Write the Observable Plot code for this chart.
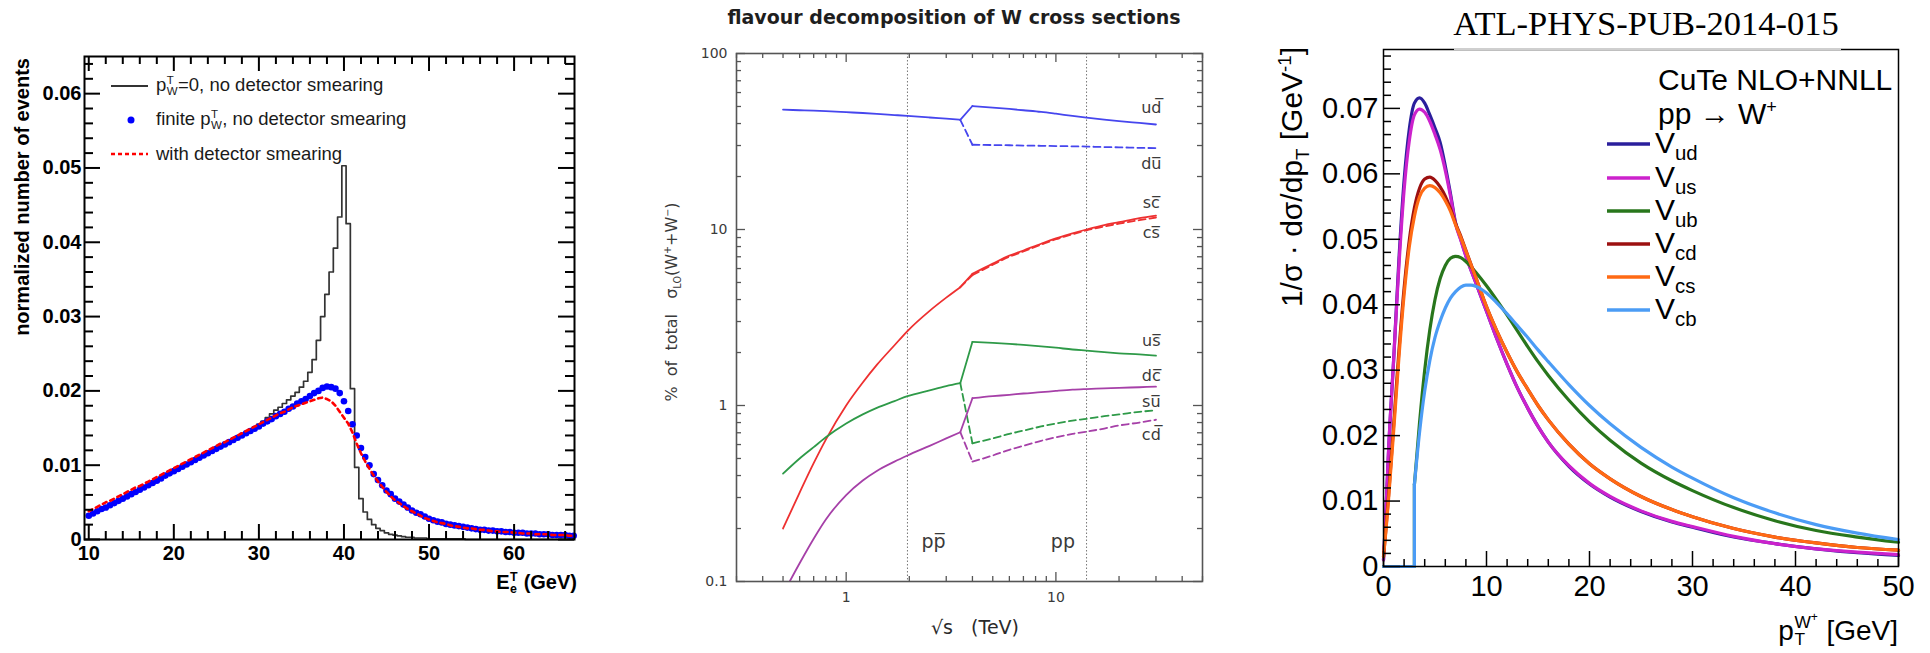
<!DOCTYPE html>
<html>
<head>
<meta charset="utf-8">
<script src="https://cdn.jsdelivr.net/npm/d3@7"></script>
<script src="https://cdn.jsdelivr.net/npm/@observablehq/plot@0.6"></script>
<style>
  body { margin: 0; background: #fff; }
  #page { position: relative; width: 1930px; height: 653px; overflow: hidden; background: #fff; }
  .panel { position: absolute; top: 0; }
  .panel svg { overflow: visible; }
  .lbl { position: absolute; white-space: pre; line-height: 1; }
  .ss { display: inline-block; font-size: 0.62em; line-height: 1; vertical-align: -0.32em; margin: 0 0.04em; text-align: left; }
  .ss > span { display: block; }
</style>
</head>
<body>
<div id="page">
  <div class="panel" id="p1" style="left:0px"></div>
  <div class="panel" id="p2" style="left:600px"></div>
  <div class="panel" id="p3" style="left:1240px"></div>
</div>
<script>
// ===================== Panel 1: electron transverse energy =====================
const etBins = d3.range(10, 67.001, 0.5); // bin centres (GeV)
// histogram: pT(W) = 0, no detector smearing
const noSmearHist = [
  .0031,.0034,.0037,.0040,.0042,.0045,.0048,.0051,.0054,.0057,
  .0060,.0063,.0066,.0069,.0072,.0075,.0078,.0081,.0085,.0088,
  .0091,.0094,.0097,.0100,.0103,.0106,.0109,.0112,.0115,.0119,
  .0122,.0125,.0128,.0131,.0134,.0138,.0141,.0144,.0148,.0151,
  .0155,.0159,.0164,.0169,.0174,.0178,.0183,.0188,.0193,.0198,
  .0205,.0213,.0225,.0242,.0268,.0300,.0330,.0360,.0392,.0434,
  .0503,.0425,.0203,.0097,.0055,.0037,.0027,.0020,.0015,.0012,
  .0009,.0007,.0006,.0005,.0004,.0003,.0003,.0002,.0002,.0002,
  .0001,.0001,.0001,.0001,.0001,.0001,.0001,.0001,.0001,0,
  0,0,0,0,0,0,0,0,0,0,
  0,0,0,0,0,0,0,0,0,0,
  0,0,0,0,0
];
// points: finite pT(W), no detector smearing
const finitePtPoints = [
  .0032,.0035,.0038,.0041,.0043,.0046,.0049,.0052,.0055,.0058,
  .0061,.0064,.0067,.0070,.0073,.0076,.0079,.0082,.0086,.0089,
  .0092,.0095,.0098,.0101,.0104,.0107,.0110,.0113,.0116,.0119,
  .0122,.0125,.0128,.0131,.0134,.0137,.0140,.0143,.0146,.0149,
  .0152,.0156,.0159,.0162,.0166,.0169,.0172,.0176,.0179,.0183,
  .0186,.0189,.0193,.0197,.0200,.0204,.0206,.0205,.0203,.0197,
  .0186,.0173,.0155,.0140,.0123,.0111,.0100,.0088,.0080,.0073,
  .0066,.0061,.0055,.0051,.0047,.0043,.0039,.0036,.0034,.0031,
  .0028,.0026,.0024,.0023,.0021,.0020,.0019,.0018,.0017,.0016,
  .0015,.0014,.0013,.0013,.0012,.0012,.0011,.0011,.0010,.0010,
  .0009,.0009,.0009,.0008,.0008,.0008,.0007,.0007,.0007,.0006,
  .0006,.0006,.0006,.0005,.0005
];
// curve: with detector smearing
const smearedCurve = [
  .0038,.0041,.0044,.0047,.0050,.0052,.0055,.0058,.0061,.0064,
  .0067,.0070,.0072,.0075,.0078,.0081,.0084,.0087,.0090,.0093,
  .0096,.0099,.0102,.0105,.0108,.0111,.0114,.0117,.0120,.0123,
  .0126,.0129,.0131,.0134,.0137,.0140,.0143,.0146,.0149,.0152,
  .0155,.0158,.0161,.0164,.0167,.0170,.0172,.0175,.0178,.0180,
  .0182,.0184,.0186,.0188,.0190,.0191,.0189,.0186,.0180,.0172,
  .0164,.0156,.0144,.0129,.0116,.0105,.0095,.0086,.0078,.0071,
  .0064,.0058,.0053,.0049,.0045,.0041,.0038,.0035,.0032,.0029,
  .0027,.0025,.0023,.0022,.0021,.0019,.0018,.0017,.0016,.0015,
  .0015,.0014,.0013,.0013,.0012,.0011,.0011,.0010,.0010,.0010,
  .0009,.0009,.0008,.0008,.0008,.0007,.0007,.0007,.0007,.0006,
  .0006,.0006,.0006,.0005,.0005
];
const etTickLabels = [10, 20, 30, 40, 50, 60];
const evTickLabels = [0, 0.01, 0.02, 0.03, 0.04, 0.05, 0.06];

// ===================== Panel 2: flavour decomposition =====================
const sqrtsPpbar = [0.5, 0.6, 0.7, 0.8, 1, 1.2, 1.4, 1.7, 1.96, 2.5, 3, 3.5];
const sqrtsPp    = [4, 5, 6, 7, 8.5, 10, 12, 14, 17, 20, 25, 30];
const udPpbar = [48, 47.6, 47.3, 47.0, 46.4, 45.9, 45.4, 44.7, 44.2, 43.3, 42.6, 42.0];
const udPp    = [50.3, 49.3, 48.4, 47.6, 46.6, 45.5, 44.2, 43.2, 42.1, 41.3, 40.3, 39.5];
const duPp    = [30.3, 30.2, 30.1, 30.0, 29.9, 29.8, 29.7, 29.6, 29.4, 29.3, 29.1, 29.0];
const scPpbar = [0.20, 0.32, 0.47, 0.64, 1.0, 1.35, 1.7, 2.2, 2.65, 3.45, 4.1, 4.7];
const scPp    = [5.6, 6.4, 7.1, 7.6, 8.3, 8.9, 9.5, 10.0, 10.6, 11.0, 11.6, 12.0];
const csPp    = [5.5, 6.3, 7.0, 7.5, 8.2, 8.8, 9.4, 9.9, 10.4, 10.8, 11.3, 11.7];
const usPpbar = [0.41, 0.50, 0.58, 0.66, 0.79, 0.89, 0.97, 1.06, 1.13, 1.22, 1.29, 1.34];
const usPp    = [2.30, 2.27, 2.24, 2.21, 2.17, 2.13, 2.08, 2.05, 2.01, 1.98, 1.95, 1.92];
const suPp    = [0.61, 0.65, 0.69, 0.72, 0.76, 0.79, 0.82, 0.84, 0.87, 0.89, 0.92, 0.94];
const dcPpbar = [0.085, 0.127, 0.175, 0.225, 0.31, 0.375, 0.425, 0.48, 0.52, 0.59, 0.65, 0.705];
const dcPp    = [1.10, 1.13, 1.15, 1.17, 1.19, 1.21, 1.23, 1.24, 1.25, 1.26, 1.27, 1.28];
const cdPp    = [0.48, 0.52, 0.56, 0.59, 0.63, 0.66, 0.69, 0.71, 0.74, 0.77, 0.80, 0.83];
const flavourNames = ["ud\u0305", "du\u0305", "sc\u0305", "cs\u0305", "us\u0305", "dc\u0305", "su\u0305", "cd\u0305"];
const flavourLabelY = [49, 23.7, 14.2, 9.6, 2.32, 1.48, 1.05, 0.68];
const flavourLabelX = 28.5;
const colliderEnergies = [1.96, 14];
const colliderNames = ["pp\u0305", "pp"];
const colliderLabelX = [2.61, 10.8];
const colliderLabelY = 0.167;

// ===================== Panel 3: W+ transverse momentum =====================
const ptGrid = [0, 0.25, 0.5, 1, 1.5, 2, 2.5, 3, 3.5, 4, 4.5, 5, 5.5, 6, 6.5, 7, 7.5, 8, 9, 10,
                11, 12, 13, 14, 15, 16, 18, 20, 22, 25, 28, 30, 34, 38, 42, 46, 50];
const vudCurve = [0.0010, 0.0090, 0.0180, 0.0320, 0.0470, 0.0590, 0.0668, 0.0708, 0.0716, 0.0708,
                  0.0690, 0.0670, 0.0648, 0.0612, 0.0570, 0.0525, 0.0500, 0.0475, 0.0432, 0.0390,
                  0.0348, 0.0309, 0.0273, 0.0242, 0.0214, 0.0190, 0.0153, 0.0126, 0.0106, 0.0084,
                  0.0068, 0.0060, 0.0045, 0.0035, 0.0027, 0.0021, 0.0017];
const vusCurve = [0.0010, 0.0090, 0.0180, 0.0320, 0.0460, 0.0575, 0.0650, 0.0690, 0.0699, 0.0694,
                  0.0680, 0.0660, 0.0637, 0.0605, 0.0566, 0.0523, 0.0499, 0.0474, 0.0432, 0.0390,
                  0.0348, 0.0309, 0.0273, 0.0242, 0.0214, 0.0190, 0.0154, 0.0127, 0.0107, 0.0085,
                  0.0069, 0.0061, 0.0046, 0.0035, 0.0027, 0.0022, 0.0018];
const vcdCurve = [0.0015, 0.0060, 0.0110, 0.0220, 0.0330, 0.0425, 0.0498, 0.0548, 0.0578, 0.0592,
                  0.0595, 0.0590, 0.0580, 0.0566, 0.0547, 0.0524, 0.0505, 0.0483, 0.0440, 0.0397,
                  0.0360, 0.0327, 0.0297, 0.0271, 0.0246, 0.0224, 0.0187, 0.0157, 0.0134, 0.0107,
                  0.0087, 0.0076, 0.0058, 0.0045, 0.0036, 0.0029, 0.0025];
const vcsCurve = [0.0015, 0.0057, 0.0105, 0.0210, 0.0320, 0.0415, 0.0488, 0.0535, 0.0565, 0.0578,
                  0.0582, 0.0579, 0.0571, 0.0559, 0.0543, 0.0522, 0.0503, 0.0482, 0.0440, 0.0397,
                  0.0360, 0.0327, 0.0297, 0.0271, 0.0246, 0.0224, 0.0187, 0.0157, 0.0134, 0.0107,
                  0.0087, 0.0076, 0.0058, 0.0045, 0.0036, 0.0029, 0.0025];
const ptGridHeavy = [3, 3.5, 4, 4.5, 5, 5.5, 6, 6.5, 7, 7.5, 8, 8.5, 9, 10, 11, 12, 13, 14, 15, 16,
                     18, 20, 22, 25, 28, 30, 34, 38, 42, 46, 50];
const vubCurve = [0.0125, 0.0220, 0.0300, 0.0362, 0.0408, 0.0440, 0.0460, 0.0471, 0.0474, 0.0472,
                  0.0466, 0.0458, 0.0449, 0.0429, 0.0407, 0.0384, 0.0360, 0.0336, 0.0313, 0.0292,
                  0.0254, 0.0221, 0.0193, 0.0158, 0.0131, 0.0116, 0.0090, 0.0070, 0.0055, 0.0045, 0.0037];
const vcbCurve = [0.0125, 0.0205, 0.0268, 0.0315, 0.0350, 0.0375, 0.0395, 0.0410, 0.0420, 0.0427,
                  0.0430, 0.0430, 0.0428, 0.0418, 0.0403, 0.0386, 0.0368, 0.0350, 0.0331, 0.0313,
                  0.0278, 0.0246, 0.0218, 0.0182, 0.0152, 0.0135, 0.0105, 0.0082, 0.0064, 0.0051, 0.0041];
const thresholdPt = [0, 3, 3];
const thresholdVal = [0, 0, 0.0125];
const ckmNames = ["ud", "us", "ub", "cd", "cs", "cb"];
const ckmColors = ["#2b1f9c", "#cc22cc", "#28761c", "#9c1010", "#ff6a14", "#4b9cf5"];
const ptTickLabels = [0, 10, 20, 30, 40, 50];
const xsecTickLabels = [0, 0.01, 0.02, 0.03, 0.04, 0.05, 0.06, 0.07];

// ---------- helpers ----------
const pts = (xs, ys) => xs.map((x, i) => ({x, y: ys[i]}));
const decFmt = d => d === 0 ? "0" : d3.format(".2f")(d);

// inward ticks along the frame, built from tick marks with insets
function frameTicks(values, dim, len, side, style) {
  const inset = dim - len;
  if (side === "bottom") return Plot.tickX(values, {x: d => d, insetTop: inset, ...style});
  if (side === "top") return Plot.tickX(values, {x: d => d, insetBottom: inset, ...style});
  if (side === "left") return Plot.tickY(values, {y: d => d, insetRight: inset, ...style});
  return Plot.tickY(values, {y: d => d, insetLeft: inset, ...style});
}

// ===================== draw panel 1 =====================
{
  const W = 600, H = 653, mL = 84, mR = 26, mT = 56, mB = 114;
  const pw = W - mL - mR, ph = H - mT - mB;
  const tickStyle = {stroke: "#000", strokeWidth: 2};
  const minorX = d3.range(10, 67, 2).filter(v => v % 10 !== 0);
  const minorY = d3.range(0.002, 0.065, 0.002).filter(v => Math.abs(v * 100 - Math.round(v * 100)) > 1e-6);
  const et = etBins.map((x, i) => ({x, hist: noSmearHist[i], pts: finitePtPoints[i], smear: smearedCurve[i]}));
  const svg = Plot.plot({
    width: W, height: H, marginLeft: mL, marginRight: mR, marginTop: mT, marginBottom: mB,
    x: {domain: [9.5, 67.1]},
    y: {domain: [0, 0.065]},
    style: {fontFamily: "'Liberation Sans', Arial, sans-serif", fontWeight: "bold", color: "#000", background: "none"},
    marks: [
      Plot.line(et, {x: "x", y: "hist", curve: "step", stroke: "#333", strokeWidth: 1.7}),
      Plot.dot(et, {x: "x", y: "pts", r: 3.3, fill: "#0000ff", stroke: "none"}),
      Plot.line(et, {x: "x", y: "smear", stroke: "#ff0000", strokeWidth: 2.6, strokeDasharray: "4,4"}),
      frameTicks(etTickLabels, ph, 15, "bottom", tickStyle),
      frameTicks(minorX, ph, 8, "bottom", tickStyle),
      frameTicks(etTickLabels, ph, 15, "top", tickStyle),
      frameTicks(minorX, ph, 8, "top", tickStyle),
      frameTicks(evTickLabels, pw, 16, "left", tickStyle),
      frameTicks(minorY, pw, 9, "left", tickStyle),
      frameTicks(evTickLabels, pw, 16, "right", tickStyle),
      frameTicks(minorY, pw, 9, "right", tickStyle),
      Plot.frame({stroke: "#000", strokeWidth: 2}),
      Plot.axisX({ticks: etTickLabels, tickSize: 0, tickPadding: 6, fontSize: 20, label: null}),
      Plot.axisY({ticks: evTickLabels, tickSize: 0, tickPadding: 3, fontSize: 20, tickFormat: decFmt, label: null})
    ]
  });
  document.getElementById("p1").appendChild(svg);
}

// ===================== draw panel 2 =====================
{
  const W = 640, H = 653, mL = 136, mR = 38, mT = 53, mB = 72;
  const pw = W - mL - mR, ph = H - mT - mB;
  const tickStyle = {stroke: "#555", strokeWidth: 1.3};
  const majorX = [1, 10];
  const minorX = [0.3, 0.4, 0.5, 0.6, 0.7, 0.8, 0.9, 2, 3, 4, 5, 6, 7, 8, 9, 20, 30, 40, 50];
  const majorY = [0.1, 1, 10, 100];
  const minorY = [0.2, 0.3, 0.4, 0.5, 0.6, 0.7, 0.8, 0.9, 2, 3, 4, 5, 6, 7, 8, 9, 20, 30, 40, 50, 60, 70, 80, 90];
  const flavours = [
    {ppbar: udPpbar, pp: udPp, dashed: duPp, color: "#4646ee"},
    {ppbar: scPpbar, pp: scPp, dashed: csPp, color: "#ee3030"},
    {ppbar: usPpbar, pp: usPp, dashed: suPp, color: "#2e9a48"},
    {ppbar: dcPpbar, pp: dcPp, dashed: cdPp, color: "#a640a8"}
  ];
  const dash = "7,4";
  const curveMarks = flavours.flatMap(f => {
    const lastX = sqrtsPpbar[sqrtsPpbar.length - 1], lastY = f.ppbar[f.ppbar.length - 1];
    const base = {x: "x", y: "y", stroke: f.color, strokeWidth: 1.8, clip: true};
    return [
      Plot.line(pts(sqrtsPpbar, f.ppbar), {...base, curve: "monotone-x"}),
      Plot.line(pts([lastX, sqrtsPp[0]], [lastY, f.pp[0]]), base),
      Plot.line(pts(sqrtsPp, f.pp), {...base, curve: "monotone-x"}),
      Plot.line(pts([lastX, sqrtsPp[0]], [lastY, f.dashed[0]]), {...base, strokeDasharray: dash}),
      Plot.line(pts(sqrtsPp, f.dashed), {...base, curve: "monotone-x", strokeDasharray: dash})
    ];
  });
  const svg = Plot.plot({
    width: W, height: H, marginLeft: mL, marginRight: mR, marginTop: mT, marginBottom: mB,
    x: {type: "log", domain: [0.3, 50]},
    y: {type: "log", domain: [0.1, 100]},
    style: {fontFamily: "'DejaVu Sans', sans-serif", color: "#3a3a3a", background: "none"},
    marks: [
      Plot.ruleX(colliderEnergies, {x: d => d, stroke: "#777", strokeWidth: 1, strokeDasharray: "1.5,2"}),
      ...curveMarks,
      Plot.text(flavourNames, {x: () => flavourLabelX, y: (d, i) => flavourLabelY[i], text: d => d, fontSize: 16, fill: "#3a3a3a"}),
      Plot.text(colliderNames, {x: (d, i) => colliderLabelX[i], y: () => colliderLabelY, text: d => d, fontSize: 19, fill: "#3a3a3a"}),
      frameTicks(majorX, ph, 9, "bottom", tickStyle),
      frameTicks(minorX, ph, 5, "bottom", tickStyle),
      frameTicks(majorX, ph, 9, "top", tickStyle),
      frameTicks(minorX, ph, 5, "top", tickStyle),
      frameTicks(majorY, pw, 9, "left", tickStyle),
      frameTicks(minorY, pw, 5, "left", tickStyle),
      frameTicks(majorY, pw, 9, "right", tickStyle),
      frameTicks(minorY, pw, 5, "right", tickStyle),
      Plot.frame({stroke: "#555", strokeWidth: 1.6}),
      Plot.axisX({ticks: majorX, tickSize: 0, tickPadding: 11, fontSize: 14, tickFormat: d => String(d), label: null}),
      Plot.axisY({ticks: majorY, tickSize: 0, tickPadding: 9, fontSize: 14, tickFormat: d => String(d), label: null})
    ]
  });
  document.getElementById("p2").appendChild(svg);
}

// ===================== draw panel 3 =====================
{
  const W = 690, H = 653, mL = 143, mR = 32, mT = 49, mB = 87;
  const pw = W - mL - mR, ph = H - mT - mB;
  const tickStyle = {stroke: "#000", strokeWidth: 1.5};
  const minorX = d3.range(2, 50, 2).filter(v => v % 10 !== 0);
  const minorY = d3.range(0.002, 0.079, 0.002).filter(v => Math.abs(v * 100 - Math.round(v * 100)) > 1e-6);
  const light = [vudCurve, vusCurve, null, vcdCurve, vcsCurve, null];
  const curveMarks = ckmNames.flatMap((n, i) => {
    const base = {x: "x", y: "y", stroke: ckmColors[i], strokeWidth: 3.2};
    if (light[i]) return [Plot.line(pts(ptGrid, light[i]), {...base, curve: "monotone-x"})];
    const ys = n === "ub" ? vubCurve : vcbCurve;
    return [
      Plot.line(pts(thresholdPt, thresholdVal), base),
      Plot.line(pts(ptGridHeavy, ys), {...base, curve: "monotone-x"})
    ];
  });
  const svg = Plot.plot({
    width: W, height: H, marginLeft: mL, marginRight: mR, marginTop: mT, marginBottom: mB,
    x: {domain: [0, 50]},
    y: {domain: [0, 0.079]},
    style: {fontFamily: "'Liberation Sans', Arial, sans-serif", color: "#000", background: "none"},
    marks: [
      ...curveMarks,
      frameTicks(ptTickLabels, ph, 15, "bottom", tickStyle),
      frameTicks(minorX, ph, 7, "bottom", tickStyle),
      frameTicks(xsecTickLabels, pw, 17, "left", tickStyle),
      frameTicks(minorY, pw, 8, "left", tickStyle),
      Plot.frame({stroke: "#000", strokeWidth: 1.5}),
      Plot.axisX({ticks: ptTickLabels, tickSize: 0, tickPadding: 9, fontSize: 29, label: null}),
      Plot.axisY({ticks: xsecTickLabels, tickSize: 0, tickPadding: 5, fontSize: 29, tickFormat: decFmt, label: null})
    ]
  });
  document.getElementById("p3").appendChild(svg);
}

// ===================== titles, axis titles and legends =====================
const page = document.getElementById("page");
function label(html, css) {
  const d = document.createElement("div");
  d.className = "lbl";
  d.innerHTML = html;
  Object.assign(d.style, css);
  page.appendChild(d);
  return d;
}
const stack = (sup, sub) => `<span class="ss"><span>${sup}</span><span>${sub}</span></span>`;
const sans = "'Liberation Sans', Arial, sans-serif";
const dejavu = "'DejaVu Sans', sans-serif";

// panel 1 texts
label("normalized number of events", {left: "22px", top: "58px", fontFamily: sans, fontWeight: "bold", fontSize: "20px",
  transformOrigin: "0 0", transform: "rotate(-90deg) translate(-100%, -50%)"});
label(`E${stack("T", "e")} (GeV)`, {right: (1930 - 577) + "px", top: "583px", fontFamily: sans, fontWeight: "bold", fontSize: "20px",
  transform: "translateY(-50%)"});
const legendFont = {fontFamily: sans, fontSize: "18.5px", color: "#1a1a1a", transform: "translateY(-50%)"};
label(`p${stack("T", "W")}=0, no detector smearing`, {left: "156px", top: "86px", ...legendFont});
label(`finite p${stack("T", "W")}, no detector smearing`, {left: "156px", top: "120px", ...legendFont});
label("with detector smearing", {left: "156px", top: "154px", ...legendFont});

// panel 2 texts
label("flavour decomposition of W cross sections", {left: "954px", top: "17px", fontFamily: dejavu, fontWeight: "bold",
  fontSize: "19px", color: "#1e1e1e", transform: "translate(-50%, -50%)"});
label("%  of  total   σ<sub style='font-size:0.6em'>LO</sub>(W<sup style='font-size:0.6em'>+</sup>+W<sup style='font-size:0.6em'>−</sup>)",
  {left: "673px", top: "302px", fontFamily: dejavu, fontSize: "16px", color: "#3a3a3a",
   transformOrigin: "0 0", transform: "rotate(-90deg) translate(-50%, -50%)"});
label("√s   (TeV)", {left: "975px", top: "627px", fontFamily: dejavu, fontSize: "19px", color: "#2a2a2a",
  transform: "translate(-50%, -50%)"});

// panel 3 texts
label("ATL-PHYS-PUB-2014-015", {left: "1646px", top: "23px", fontFamily: "'Liberation Serif', 'Times New Roman', serif",
  fontSize: "34.5px", color: "#000", transform: "translate(-50%, -50%)"});
label("", {left: "1454px", top: "47px", width: "387px", height: "3px", background: "#fff"});
label("", {left: "1454px", top: "48px", width: "387px", height: "1.5px", background: "#cfcfcf"});
label(`1/σ · dσ/dp<sub style="font-size:0.62em">T</sub> [GeV<sup style="font-size:0.62em">-1</sup>]`,
  {left: "1294px", top: "47px", fontFamily: sans, fontSize: "30px", color: "#000",
   transformOrigin: "0 0", transform: "rotate(-90deg) translate(-100%, -50%)"});
label(`p${stack("W<sup style='font-size:0.7em'>+</sup>", "T")} [GeV]`, {right: (1930 - 1898) + "px", top: "630px",
  fontFamily: sans, fontSize: "28px", color: "#000", transform: "translateY(-50%)"});
label("CuTe NLO+NNLL", {left: "1658px", top: "80px", fontFamily: sans, fontSize: "30px", transform: "translateY(-50%)"});
label(`pp → W<sup style="font-size:0.6em">+</sup>`, {left: "1658px", top: "113px", fontFamily: sans, fontSize: "30px", transform: "translateY(-50%)"});
const legendRows = [144, 178, 211, 244, 277, 310];
ckmNames.forEach((n, i) => {
  label(`V<sub style="font-size:0.68em">${n}</sub>`, {left: "1655px", top: legendRows[i] + "px", fontFamily: sans,
    fontSize: "30px", transform: "translateY(-45%)"});
});

// legend keys
const keys = d3.select(page).append("svg")
  .attr("width", 1930).attr("height", 653)
  .style("position", "absolute").style("left", 0).style("top", 0).style("pointer-events", "none");
keys.append("line").attr("x1", 111).attr("x2", 148).attr("y1", 86).attr("y2", 86).attr("stroke", "#333").attr("stroke-width", 2);
keys.append("circle").attr("cx", 131).attr("cy", 120).attr("r", 3.5).attr("fill", "#0000ff");
keys.append("line").attr("x1", 111).attr("x2", 148).attr("y1", 154).attr("y2", 154).attr("stroke", "#ff0000")
  .attr("stroke-width", 2.6).attr("stroke-dasharray", "4,3");
ckmColors.forEach((c, i) => {
  keys.append("line").attr("x1", 1607).attr("x2", 1650).attr("y1", legendRows[i]).attr("y2", legendRows[i])
    .attr("stroke", c).attr("stroke-width", 3.5);
});
</script>
</body>
</html>
